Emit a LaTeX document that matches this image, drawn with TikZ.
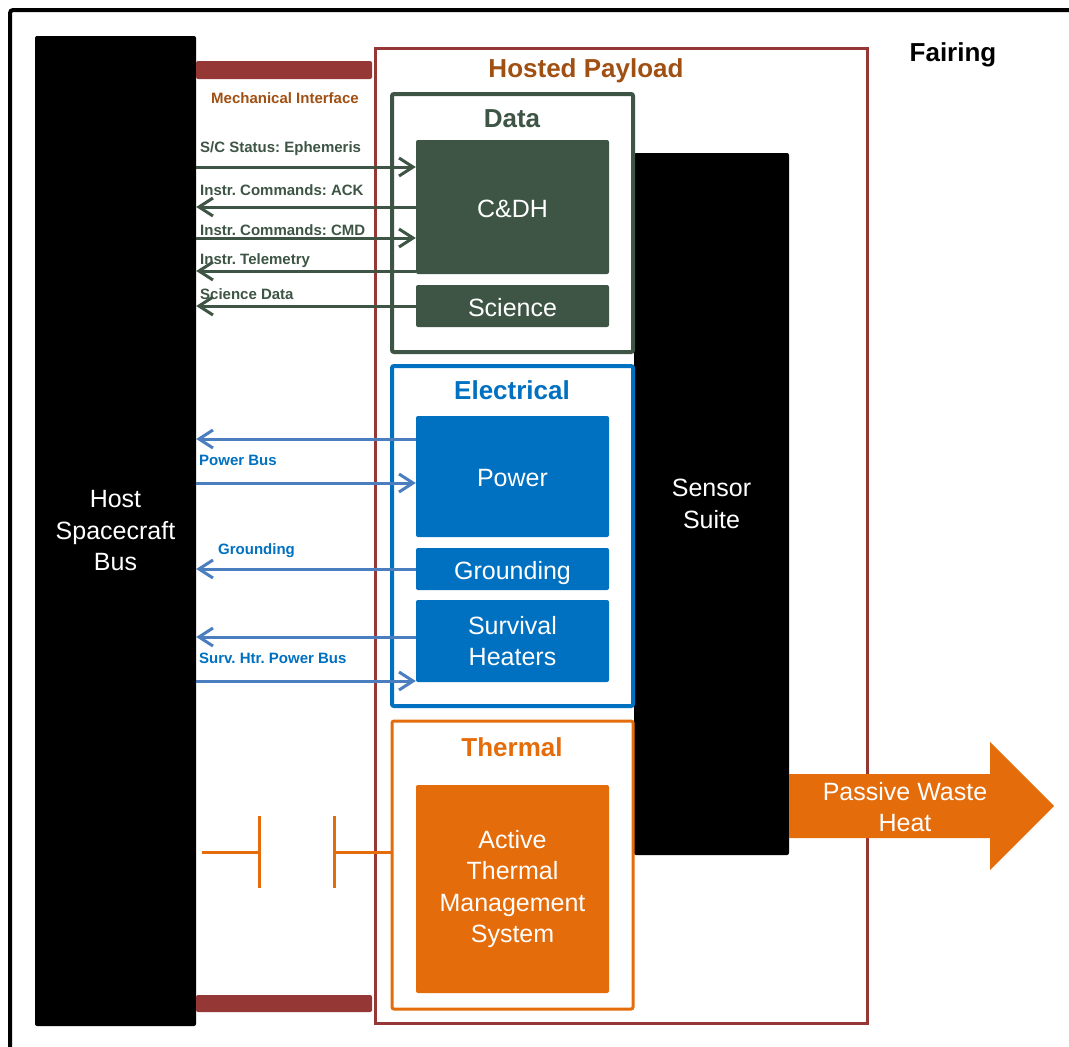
\documentclass[tikz,border=0pt]{standalone}
\usepackage{fontspec}
\setmainfont{Liberation Sans}
\usetikzlibrary{arrows.meta}
\frenchspacing
\definecolor{hpRed}{RGB}{149,55,53}
\definecolor{hpText}{RGB}{160,80,18}
\definecolor{dataGreen}{RGB}{62,85,69}
\definecolor{elecBlue}{RGB}{0,112,192}
\definecolor{arrowBlue}{RGB}{74,126,190}
\definecolor{thermOrange}{RGB}{228,108,10}
\tikzset{
  bigfont/.style={font=\fontsize{25}{31.5}\selectfont},
  headfont/.style={font=\fontsize{26}{30}\selectfont\bfseries},
  smallfont/.style={font=\fontsize{15}{18}\selectfont\bfseries},
  blackblock/.style={fill=black, rounded corners=2, text=white, bigfont, align=center, inner sep=0pt},
  subbox/.style={draw=#1, line width=4, rounded corners=2, inner sep=0pt},
  innerblock/.style={fill=#1, rounded corners=2, text=white, bigfont, align=center, inner sep=0pt},
  oneline/.style={text height=20pt, text depth=0pt},
  barbtip/.style={-{Straight Barb[length=14,width=18]}},
  datalink/.style={draw=dataGreen, line width=3, barbtip},
  elecarrow/.style={draw=arrowBlue, line width=3, barbtip},
  datalbl/.style={smallfont, text=dataGreen, anchor=west, inner sep=0pt},
  eleclbl/.style={smallfont, text=elecBlue, anchor=west, inner sep=0pt},
  thermline/.style={draw=thermOrange, line width=3},
}
\begin{document}
\begin{tikzpicture}[x=1pt, y=-1pt]
\useasboundingbox (0,0) rectangle (1069,1047);
\fill[white] (0,0) rectangle (1069,1047);

% Fairing
\draw[line width=4, rounded corners=3] (10,1060) -- (10,10) -- (1080,10);
\node[headfont, text=black] (fairing) at (953,55) {Fairing};

% Host spacecraft bus
\node[blackblock, minimum width=161, minimum height=990] (host) at (115.5,531) {Host\\Spacecraft\\Bus};

% Mechanical interface bars
\node[fill=hpRed, rounded corners=2, minimum width=176, minimum height=18, inner sep=0pt] (mechtop) at (284,70) {};
\node[fill=hpRed, rounded corners=2, minimum width=176, minimum height=17, inner sep=0pt] (mechbot) at (284,1003.5) {};
\node[smallfont, text=hpText] (mechlbl) at (285,98) {Mechanical Interface};

% Hosted payload
\node[draw=hpRed, line width=3, minimum width=492, minimum height=975, inner sep=0pt] (hp) at (621,535.5) {};
\node[headfont, text=hpText] (hplbl) at (586,71) {Hosted Payload};

% Sensor suite
\node[blackblock, minimum width=155, minimum height=702] (sensor) at (711.5,504) {Sensor\\Suite};

% Data
\node[subbox=dataGreen, minimum width=241, minimum height=258] (data) at (512.5,223) {};
\node[headfont, text=dataGreen] (datalbl) at (512,119) {Data};
\node[innerblock=dataGreen, oneline, minimum width=193, minimum height=134] (cdh) at (512.5,207) {C\&DH};
\node[innerblock=dataGreen, oneline, minimum width=193, minimum height=42] (sci) at (512.5,306) {Science};

% Electrical
\node[subbox=elecBlue, minimum width=241, minimum height=340] (elec) at (512.5,536) {};
\node[headfont, text=elecBlue] (eleclbl) at (512,390) {Electrical};
\node[innerblock=elecBlue, oneline, minimum width=193, minimum height=121] (power) at (512.5,476.5) {Power};
\node[innerblock=elecBlue, oneline, minimum width=193, minimum height=42] (gnd) at (512.5,569) {Grounding};
\node[innerblock=elecBlue, minimum width=193, minimum height=82] (surv) at (512.5,641) {Survival\\Heaters};

% Thermal
\node[draw=thermOrange, line width=3, rounded corners=2, inner sep=0pt, minimum width=241, minimum height=288] (therm) at (512.5,865) {};
\node[headfont, text=thermOrange] (thermlbl) at (512,747) {Thermal};
\node[innerblock=thermOrange, minimum width=193, minimum height=208] (ats) at (512.5,889) {Active\\Thermal\\Management\\System};

% Passive waste heat arrow
\fill[thermOrange] (789,774) -- (990,774) -- (990,742) -- (1054,806) -- (990,870) -- (990,838) -- (789,838) -- cycle;
\node[bigfont, text=white, align=center] (waste) at (905,807) {Passive Waste\\Heat};

% Data links
\draw[datalink] (host.east |- 0,167) -- (cdh.west |- 0,167);
\draw[datalink] (cdh.west |- 0,207) -- (host.east |- 0,207);
\draw[datalink] (host.east |- 0,238) -- (cdh.west |- 0,238);
\draw[datalink] (cdh.west |- 0,271) -- (host.east |- 0,271);
\draw[datalink] (sci.west |- 0,306) -- (host.east |- 0,306);
\node[datalbl] (l1) at (200,149) {S/C Status: Ephemeris};
\node[datalbl] (l2) at (200,190) {Instr. Commands: ACK};
\node[datalbl] (l3) at (200,230) {Instr. Commands: CMD};
\node[datalbl] (l4) at (200,261) {Instr. Telemetry};
\node[datalbl] (l5) at (200,294) {Science Data};

% Electrical links
\draw[elecarrow] (power.west |- 0,439) -- (host.east |- 0,439);
\draw[elecarrow] (host.east |- 0,483) -- (power.west |- 0,483);
\draw[elecarrow] (gnd.west |- 0,569) -- (host.east |- 0,569);
\draw[elecarrow] (surv.west |- 0,637) -- (host.east |- 0,637);
\draw[elecarrow] (host.east |- 0,681) -- (surv.west |- 0,681);
\node[eleclbl] (l6) at (199,460) {Power Bus};
\node[eleclbl] (l7) at (218,551) {Grounding};
\node[eleclbl] (l8) at (199,658) {Surv. Htr. Power Bus};

% Thermal interface connector
\coordinate (tA) at (334,852);
\coordinate (tB) at (259,852);
\coordinate (tC) at (202,852);
\draw[thermline] (therm.west |- tA) -- (tA);
\draw[thermline] (334,816) -- (334,888);
\draw[thermline] (259,816) -- (259,888);
\draw[thermline] (tB) -- (tC);
\end{tikzpicture}
\end{document}
